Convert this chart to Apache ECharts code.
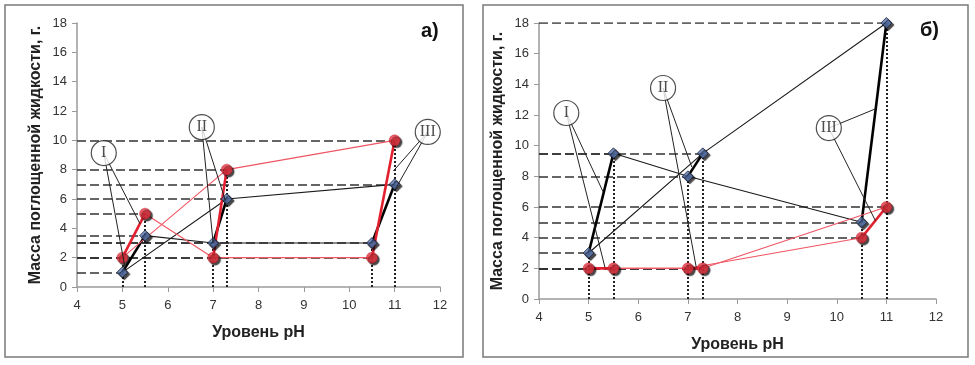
<!DOCTYPE html>
<html><head><meta charset="utf-8">
<script src="https://cdn.jsdelivr.net/npm/echarts@6/dist/echarts.min.js"></script>
<style>html,body{margin:0;padding:0;background:#fff}#c{width:975px;height:365px}</style>
</head><body><div id="c"></div>
<script>
// ---- data ----
const pH = [5, 5.5, 7, 7.3, 10.5, 11];
const blackA = [1, 3.5, 3, 6, 3, 7];
const redA = [2, 5, 2, 8, 2, 10];
const blackB = [3, 9.5, 8, 9.5, 5, 18];
const redB = [2, 2, 2, 2, 4, 6];
const thinPaths = [[0, 3, 5], [1, 2, 4]];
const thickPairs = [[0, 1], [2, 3], [4, 5]];
const xTicks = [4, 5, 6, 7, 8, 9, 10, 11, 12];
const yTicks = [0, 2, 4, 6, 8, 10, 12, 14, 16, 18];
const panelLabels = ['а)', 'б)'];
const yName = 'Масса поглощенной жидкости, г.';
const xName = 'Уровень pH';
// annotations: [label, center, leader end points]
const notesA = [
  ['I', [4.59, 9.13], [[5.06, 1.3], [5.39, 4.3]]],
  ['II', [6.75, 10.9], [[7.0, 3.0], [7.27, 5.9]]],
  ['III', [11.73, 10.57], [[10.97, 7.9], [11.02, 6.7]]]
];
const notesB = [
  ['I', [4.55, 12.13], [[5.29, 7.0], [5.33, 2.05]]],
  ['II', [6.5, 13.76], [[7.08, 8.6], [7.17, 2.05]]],
  ['III', [9.84, 11.15], [[10.78, 12.4], [10.78, 5.1]]]
];

const chart = echarts.init(document.getElementById('c'), null, {renderer: 'canvas'});
const FONT = 'Liberation Sans';
const grids = [
  {left: 77, top: 23, width: 363, height: 264},
  {left: 539, top: 23, width: 397, height: 276}
];
function xAx(i) {
  return {gridIndex: i, type: 'value', min: xTicks[0], max: xTicks[xTicks.length - 1], interval: 1,
    name: xName, nameLocation: 'middle', nameGap: 38,
    nameTextStyle: {fontFamily: FONT, fontWeight: 'bold', fontSize: 16, color: '#222'},
    axisLine: {lineStyle: {color: '#9a9a9a', width: 1.5}},
    axisTick: {show: true, length: 5, lineStyle: {color: '#9a9a9a'}},
    splitLine: {show: false},
    axisLabel: {fontFamily: FONT, fontSize: 13, color: '#333', margin: 12}};
}
function yAx(i) {
  return {gridIndex: i, type: 'value', min: yTicks[0], max: yTicks[yTicks.length - 1], interval: 2,
    name: yName, nameLocation: 'middle', nameGap: 33, nameRotate: 90,
    nameTextStyle: {fontFamily: FONT, fontWeight: 'bold', fontSize: 16, color: '#222'},
    axisLine: {show: true, lineStyle: {color: '#9a9a9a', width: 1.5}},
    axisTick: {show: true, length: 5, lineStyle: {color: '#9a9a9a'}},
    splitLine: {show: false},
    axisLabel: {fontFamily: FONT, fontSize: 13, color: '#333', margin: 10}};
}
const series = [];
function pts(ys, idx) { return idx.map(k => [pH[k], ys[k]]); }
function addPanel(i, black, red, notes) {
  const base = {xAxisIndex: i, yAxisIndex: i};
  // drop lines
  const hz = [], vt = [];
  [black, red].forEach(ys => ys.forEach((y, k) => {
    hz.push({coords: [[4, y], [pH[k], y]]});
    vt.push({coords: [[pH[k], 0], [pH[k], y]]});
  }));
  series.push(Object.assign({type: 'lines', coordinateSystem: 'cartesian2d', z: 1, silent: true,
    lineStyle: {color: '#333', width: 1.7, type: [9, 4], opacity: 1}, data: hz}, base));
  series.push(Object.assign({type: 'lines', coordinateSystem: 'cartesian2d', z: 1, silent: true,
    lineStyle: {color: '#222', width: 2, type: [2, 2], opacity: 1}, data: vt}, base));
  // connecting lines
  [[black, '#1a1a1a', '#000'], [red, '#ef5562', '#e3202f']].forEach(([ys, thin, thick]) => {
    thinPaths.forEach(p => series.push(Object.assign({type: 'line', z: 2, showSymbol: false, silent: true,
      lineStyle: {color: thin, width: 1.1}, data: pts(ys, p)}, base)));
    thickPairs.forEach(p => series.push(Object.assign({type: 'line', z: 2, showSymbol: false, silent: true,
      lineStyle: {color: thick, width: 2.6}, data: pts(ys, p)}, base)));
  });
  // markers
  series.push(Object.assign({type: 'scatter', z: 3, symbol: 'diamond', symbolSize: 11,
    itemStyle: {color: '#5a78b4', borderColor: '#1c2235', borderWidth: 1, shadowColor: 'rgba(0,0,0,0.9)', shadowOffsetX: 2, shadowOffsetY: 2, shadowBlur: 1},
    data: black.map((y, k) => [pH[k], y])}, base));
  series.push(Object.assign({type: 'scatter', z: 3, symbol: 'circle', symbolSize: 11,
    itemStyle: {color: '#e8323f', borderColor: '#b01020', borderWidth: 0.5, shadowColor: 'rgba(0,0,0,0.9)', shadowOffsetX: 2, shadowOffsetY: 2, shadowBlur: 1},
    data: red.map((y, k) => [pH[k], y])}, base));
  // annotations
  const leaders = [];
  notes.forEach(n => n[2].forEach(e => leaders.push({coords: [n[1], e]})));
  series.push(Object.assign({type: 'lines', coordinateSystem: 'cartesian2d', z: 4, silent: true,
    lineStyle: {color: '#222', width: 1, opacity: 1}, data: leaders}, base));
  series.push(Object.assign({type: 'scatter', z: 5, symbol: 'circle', symbolSize: 25, silent: true,
    itemStyle: {color: '#fff', borderColor: '#222', borderWidth: 1.2},
    label: {show: true, position: 'inside', formatter: p => p.name, fontFamily: 'Liberation Serif', fontSize: 16, color: '#222'},
    data: notes.map(n => ({name: n[0], value: n[1]}))}, base));
}
addPanel(0, blackA, redA, notesA);
addPanel(1, blackB, redB, notesB);

chart.setOption({
  animation: false,
  grid: grids,
  xAxis: [xAx(0), xAx(1)],
  yAxis: [yAx(0), yAx(1)],
  graphic: [
    {type: 'rect', shape: {x: 5, y: 5, width: 458, height: 352}, style: {fill: 'none', stroke: '#7a7a7a', lineWidth: 1.5}, z: -1},
    {type: 'rect', shape: {x: 483, y: 5, width: 485, height: 352}, style: {fill: 'none', stroke: '#7a7a7a', lineWidth: 1.5}, z: -1},
    {type: 'text', left: 421, top: 21, style: {text: panelLabels[0], font: 'bold 20px ' + FONT, fill: '#111'}},
    {type: 'text', left: 920, top: 20, style: {text: panelLabels[1], font: 'bold 20px ' + FONT, fill: '#111'}}
  ],
  series: series
});
</script></body></html>
